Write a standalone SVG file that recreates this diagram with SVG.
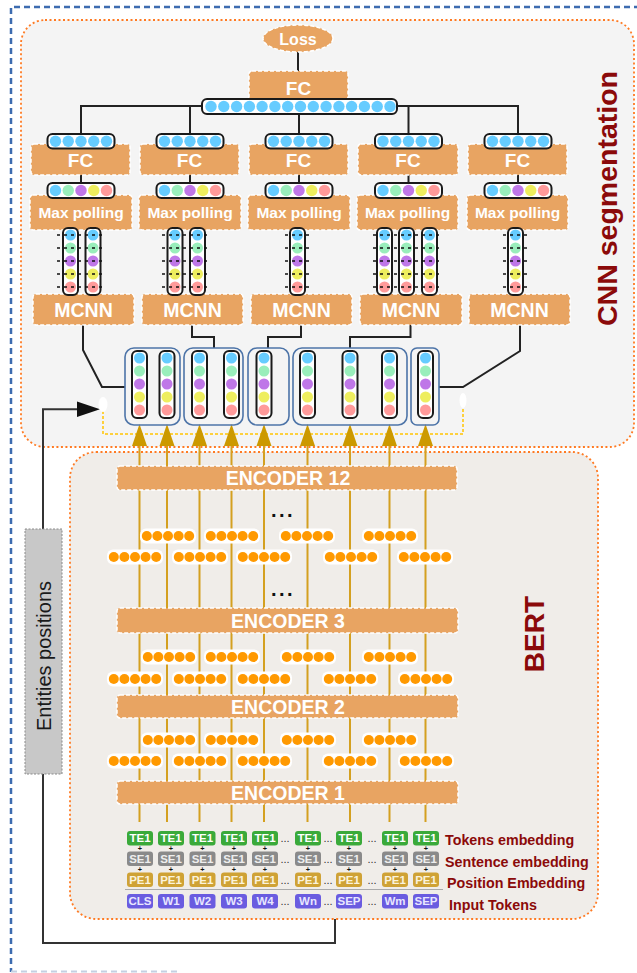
<svg xmlns="http://www.w3.org/2000/svg" width="637" height="973" viewBox="0 0 637 973">
<style>
.ob{fill:#e8a462;stroke:#fff;stroke-width:1.5;stroke-dasharray:4 2}
.wt{fill:#fff;font-family:"Liberation Sans",Arial,sans-serif;font-weight:bold;text-anchor:middle}
.bar{fill:#fff;stroke:#1a1a1a;stroke-width:2}
.cb{fill:#66ccff}.cg{fill:#99eebb}.cp{fill:#bf77e8}.cy{fill:#eeee5e}.cr{fill:#ff9a9a}.co{fill:#ff9900}
.blk{fill:none;stroke:#222;stroke-width:2}
.dsh{fill:none;stroke:#111;stroke-width:1.5;stroke-dasharray:3 4}
.grp{fill:none;stroke:#4d74a8;stroke-width:1.6}
.gold{fill:none;stroke:#d4a020;stroke-width:2}
.ah{fill:#cc9900}
.tb{font-family:"Liberation Sans",Arial,sans-serif;font-weight:bold;font-size:11.5px;fill:#fff;text-anchor:middle}
.te{fill:#3aaa3a}.se{fill:#8a8a8a}.pe{fill:#cfa235}.it{fill:#6a5ce0}
.lbl{font-family:"Liberation Sans",Arial,sans-serif;font-weight:bold;font-size:14.3px;fill:#8b0a0a}
.dots{font-family:"Liberation Sans",Arial,sans-serif;font-size:11px;fill:#333;text-anchor:middle}
.plus{font-family:"Liberation Sans",Arial,sans-serif;font-weight:bold;font-size:7.3px;fill:#111;text-anchor:middle}
</style>
<defs>
<g id="hb-blue">
<rect x="0" y="0" width="67" height="14.5" rx="5" class="bar"/>
<circle cx="8" cy="7.25" r="5.7" class="cb"/><circle cx="20.75" cy="7.25" r="5.7" class="cb"/><circle cx="33.5" cy="7.25" r="5.7" class="cb"/><circle cx="46.25" cy="7.25" r="5.7" class="cb"/><circle cx="59" cy="7.25" r="5.7" class="cb"/>
</g>
<g id="hb-col">
<rect x="0" y="0" width="67" height="15" rx="5" class="bar"/>
<circle cx="8" cy="7.5" r="5.7" class="cb"/><circle cx="20.75" cy="7.5" r="5.7" class="cg"/><circle cx="33.5" cy="7.5" r="5.7" class="cp"/><circle cx="46.25" cy="7.5" r="5.7" class="cy"/><circle cx="59" cy="7.5" r="5.7" class="cr"/>
</g>
<g id="vb">
<rect x="0" y="0" width="15" height="67" rx="5" class="bar"/>
<circle cx="7.5" cy="7" r="5.5" class="cb"/><circle cx="7.5" cy="20" r="5.5" class="cg"/><circle cx="7.5" cy="33" r="5.5" class="cp"/><circle cx="7.5" cy="46" r="5.5" class="cy"/><circle cx="7.5" cy="59" r="5.5" class="cr"/>
</g>
<g id="pill">
<rect x="0" y="0" width="56" height="15" rx="6" fill="#fff"/>
<circle cx="6.8" cy="7.5" r="5" class="co"/><circle cx="17.4" cy="7.5" r="5" class="co"/><circle cx="28" cy="7.5" r="5" class="co"/><circle cx="38.6" cy="7.5" r="5" class="co"/><circle cx="49.2" cy="7.5" r="5" class="co"/>
</g>
</defs>

<!-- frames -->
<path d="M640 7 H11 V972" fill="none" stroke="#3d6cb0" stroke-width="2.5" stroke-dasharray="6 4"/>
<path d="M11 971.5 H180" fill="none" stroke="#c4d0e2" stroke-width="2" stroke-dasharray="6 4"/>
<rect id="cnn-frame" x="21" y="20" width="613" height="427" rx="24" fill="#f4f4f4" stroke="#ff7a22" stroke-width="1.8" stroke-dasharray="2 2.5"/>
<rect id="bert-frame" x="70" y="452" width="528" height="467" rx="26" fill="#f0ede9" stroke="#ff7a22" stroke-width="1.8" stroke-dasharray="2 2.5"/>
<text x="617" y="198.5" transform="rotate(-90 617 198.5)" font-family="Liberation Sans,Arial,sans-serif" font-weight="bold" font-size="28.5" fill="#8b0a0a" text-anchor="middle">CNN segmentation</text>
<text x="544" y="634" transform="rotate(-90 544 634)" font-family="Liberation Sans,Arial,sans-serif" font-weight="bold" font-size="28" fill="#8b0a0a" text-anchor="middle">BERT</text>

<!-- connectors -->
<g id="connectors">
<path class="blk" d="M298 52 V71"/>
<path class="blk" d="M81 134 V106 H518 V134 M190 106 V134 M299 106 V134 M408.5 106 V134"/>
<path class="blk" d="M81 175 V183 M190 175 V183 M299 175 V183 M408.5 175 V183 M518 175 V183"/>
<path class="blk" d="M83 325 V350 L102 387 H125"/>
<path class="blk" d="M192 325 V337 H214 V348"/>
<path class="blk" d="M301 325 V337 H268 V348"/>
<path class="blk" d="M410.5 325 V337 H350 V348"/>
<path class="blk" d="M520 325 V351 L463 387 H439"/>
<path d="M103 411 V434 H463 V408" fill="none" stroke="#ffc400" stroke-width="1.5" stroke-dasharray="3 2"/>
<path d="M79 409.3 H43 V529 M43 774 V943 H335 V919" fill="none" stroke="#333" stroke-width="2"/>
<polygon points="77,401.5 100,409.3 77,417" fill="#111"/>
<path class="gold" d="M139.5 446 V822 M167 446 V822 M199.5 446 V822 M231.5 446 V822 M264 446 V822 M307.5 446 V822 M350 446 V822 M389.5 446 V822 M425.5 446 V822"/>
<g class="ah">
<polygon points="139.5,424 132,446 147,446"/><polygon points="167,424 159.5,446 174.5,446"/><polygon points="199.5,424 192,446 207,446"/><polygon points="231.5,424 224,446 239,446"/><polygon points="264,424 256.5,446 271.5,446"/><polygon points="307.5,424 300,446 315,446"/><polygon points="350,424 342.5,446 357.5,446"/><polygon points="389.5,424 382,446 397,446"/><polygon points="425.5,424 418,446 433,446"/>
</g>
</g>

<!-- CNN nodes -->
<g id="loss">
<ellipse cx="298" cy="38.5" rx="35" ry="13.5" class="ob"/>
<text x="298" y="44.5" class="wt" font-size="16">Loss</text>
</g>
<g id="fc-top">
<rect x="249" y="71" width="99" height="29" rx="3" class="ob"/>
<text x="298.5" y="94.5" class="wt" font-size="19">FC</text>
</g>
<g id="concat-vector">
<rect x="202" y="99" width="195" height="15" rx="5" class="bar"/>
<g class="cb">
<circle cx="211" cy="106.5" r="5.7"/><circle cx="223.8" cy="106.5" r="5.7"/><circle cx="236.6" cy="106.5" r="5.7"/><circle cx="249.4" cy="106.5" r="5.7"/><circle cx="262.1" cy="106.5" r="5.7"/><circle cx="274.9" cy="106.5" r="5.7"/><circle cx="287.7" cy="106.5" r="5.7"/><circle cx="300.5" cy="106.5" r="5.7"/><circle cx="313.3" cy="106.5" r="5.7"/><circle cx="326.1" cy="106.5" r="5.7"/><circle cx="338.9" cy="106.5" r="5.7"/><circle cx="351.6" cy="106.5" r="5.7"/><circle cx="364.4" cy="106.5" r="5.7"/><circle cx="377.2" cy="106.5" r="5.7"/><circle cx="390" cy="106.5" r="5.7"/>
</g>
</g>

<g id="branch-1">
<rect x="31" y="144" width="99" height="31" rx="3" class="ob"/>
<text x="80.5" y="167" class="wt" font-size="19">FC</text>
<use href="#hb-blue" x="47.5" y="134"/>
<rect x="30" y="195" width="102" height="35" rx="3" class="ob"/>
<text x="81" y="218" class="wt" font-size="15.5">Max polling</text>
<use href="#hb-col" x="47.5" y="183"/>
<rect x="33" y="294" width="101" height="31" rx="3" class="ob"/>
<text x="83.5" y="316.5" class="wt" font-size="19.5">MCNN</text>
<use href="#vb" x="63" y="228"/><use href="#vb" x="85.5" y="228"/>
<path class="dsh" d="M57 235 H104 M57 248 H104 M57 261 H104 M57 274 H104 M57 287 H104"/>
</g>
<g id="branch-2">
<rect x="140" y="144" width="99" height="31" rx="3" class="ob"/>
<text x="189.5" y="167" class="wt" font-size="19">FC</text>
<use href="#hb-blue" x="156.5" y="134"/>
<rect x="139" y="195" width="102" height="35" rx="3" class="ob"/>
<text x="190" y="218" class="wt" font-size="15.5">Max polling</text>
<use href="#hb-col" x="156.5" y="183"/>
<rect x="142" y="294" width="101" height="31" rx="3" class="ob"/>
<text x="192.5" y="316.5" class="wt" font-size="19.5">MCNN</text>
<use href="#vb" x="167.5" y="228"/><use href="#vb" x="190" y="228"/>
<path class="dsh" d="M162 235 H208 M162 248 H208 M162 261 H208 M162 274 H208 M162 287 H208"/>
</g>
<g id="branch-3">
<rect x="249" y="144" width="99" height="31" rx="3" class="ob"/>
<text x="298.5" y="167" class="wt" font-size="19">FC</text>
<use href="#hb-blue" x="265.5" y="134"/>
<rect x="248" y="195" width="102" height="35" rx="3" class="ob"/>
<text x="299" y="218" class="wt" font-size="15.5">Max polling</text>
<use href="#hb-col" x="265.5" y="183"/>
<rect x="251" y="294" width="101" height="31" rx="3" class="ob"/>
<text x="301.5" y="316.5" class="wt" font-size="19.5">MCNN</text>
<use href="#vb" x="290" y="228"/>
<path class="dsh" d="M285 235 H312 M285 248 H312 M285 261 H312 M285 274 H312 M285 287 H312"/>
</g>
<g id="branch-4">
<rect x="358" y="144" width="100" height="31" rx="3" class="ob"/>
<text x="408" y="167" class="wt" font-size="19">FC</text>
<use href="#hb-blue" x="375" y="134"/>
<rect x="357" y="195" width="101" height="35" rx="3" class="ob"/>
<text x="407.5" y="218" class="wt" font-size="15.5">Max polling</text>
<use href="#hb-col" x="375" y="183"/>
<rect x="360" y="294" width="102" height="31" rx="3" class="ob"/>
<text x="411" y="316.5" class="wt" font-size="19.5">MCNN</text>
<use href="#vb" x="377" y="228"/><use href="#vb" x="399" y="228"/><use href="#vb" x="422" y="228"/>
<path class="dsh" d="M373 235 H439 M373 248 H439 M373 261 H439 M373 274 H439 M373 287 H439"/>
</g>
<g id="branch-5">
<rect x="468" y="144" width="99" height="31" rx="3" class="ob"/>
<text x="517.5" y="167" class="wt" font-size="19">FC</text>
<use href="#hb-blue" x="484.5" y="134"/>
<rect x="467" y="195" width="101" height="35" rx="3" class="ob"/>
<text x="517.5" y="218" class="wt" font-size="15.5">Max polling</text>
<use href="#hb-col" x="484.5" y="183"/>
<rect x="469" y="294" width="101" height="31" rx="3" class="ob"/>
<text x="519.5" y="316.5" class="wt" font-size="19.5">MCNN</text>
<use href="#vb" x="508" y="228"/>
<path class="dsh" d="M503 235 H531 M503 248 H531 M503 261 H531 M503 274 H531 M503 287 H531"/>
</g>

<!-- entity groups -->
<g id="entity-groups">
<rect x="125" y="348" width="55" height="77" rx="9" class="grp"/>
<rect x="184" y="348" width="59" height="77" rx="9" class="grp"/>
<rect x="248" y="348" width="41" height="77" rx="9" class="grp"/>
<rect x="293" y="348" width="114" height="77" rx="9" class="grp"/>
<rect x="411" y="348" width="28" height="77" rx="6" class="grp"/>
<use href="#vb" x="132" y="351"/><use href="#vb" x="159.5" y="351"/><use href="#vb" x="192" y="351"/><use href="#vb" x="224" y="351"/><use href="#vb" x="256.5" y="351"/><use href="#vb" x="300" y="351"/><use href="#vb" x="342.5" y="351"/><use href="#vb" x="382" y="351"/><use href="#vb" x="418" y="351"/>
<ellipse cx="103" cy="404.5" rx="4.5" ry="7.5" fill="#fff"/>
<ellipse cx="463" cy="400.5" rx="3.5" ry="7.5" fill="#fff"/>
</g>

<g id="entities-positions">
<rect x="25" y="529" width="37" height="245" fill="#c8c8c8" stroke="#8a8a8a" stroke-width="1" stroke-dasharray="2 1.5"/>
<text x="51" y="656" transform="rotate(-90 51 656)" font-family="Liberation Sans,Arial,sans-serif" font-size="20" fill="#1a1a1a" text-anchor="middle">Entities positions</text>
</g>

<!-- BERT -->
<g id="hidden-states">
<use href="#pill" x="140" y="528.5"/><use href="#pill" x="204" y="528.5"/><use href="#pill" x="279" y="528.5"/><use href="#pill" x="362" y="528.5"/>
<use href="#pill" x="107" y="549.5"/><use href="#pill" x="172" y="549.5"/><use href="#pill" x="236" y="549.5"/><use href="#pill" x="323" y="549.5"/><use href="#pill" x="397" y="549.5"/>
<use href="#pill" x="141" y="649.5"/><use href="#pill" x="204" y="649.5"/><use href="#pill" x="280" y="649.5"/><use href="#pill" x="362" y="649.5"/>
<use href="#pill" x="107" y="671.5"/><use href="#pill" x="172" y="671.5"/><use href="#pill" x="236" y="671.5"/><use href="#pill" x="322" y="671.5"/><use href="#pill" x="398" y="671.5"/>
<use href="#pill" x="141" y="732.5"/><use href="#pill" x="204" y="732.5"/><use href="#pill" x="280" y="732.5"/><use href="#pill" x="362" y="732.5"/>
<use href="#pill" x="107" y="753.5"/><use href="#pill" x="172" y="753.5"/><use href="#pill" x="236" y="753.5"/><use href="#pill" x="322" y="753.5"/><use href="#pill" x="398" y="753.5"/>
<text x="283" y="517" font-family="Liberation Sans,Arial,sans-serif" font-weight="bold" font-size="20" letter-spacing="2.5" fill="#111" text-anchor="middle">...</text>
<text x="283" y="596" font-family="Liberation Sans,Arial,sans-serif" font-weight="bold" font-size="20" letter-spacing="2.5" fill="#111" text-anchor="middle">...</text>
</g>
<g id="encoder-12">
<rect x="117" y="466" width="340" height="24" rx="3" class="ob"/>
<text x="288" y="485" class="wt" font-size="19.5">ENCODER 12</text>
</g>
<g id="encoder-3">
<rect x="117" y="608" width="341" height="25" rx="3" class="ob"/>
<text x="288" y="628" class="wt" font-size="19.5">ENCODER 3</text>
</g>
<g id="encoder-2">
<rect x="117" y="695" width="341" height="23" rx="3" class="ob"/>
<text x="288" y="713.5" class="wt" font-size="19.5">ENCODER 2</text>
</g>
<g id="encoder-1">
<rect x="117" y="781" width="341" height="23" rx="3" class="ob"/>
<text x="288" y="799.5" class="wt" font-size="19.5">ENCODER 1</text>
</g>

<g id="token-embeddings">
<g class="te">
<rect x="127" y="831" width="26" height="14.5" rx="3"/><rect x="158" y="831" width="26" height="14.5" rx="3"/><rect x="189.5" y="831" width="26" height="14.5" rx="3"/><rect x="221" y="831" width="26" height="14.5" rx="3"/><rect x="252" y="831" width="26" height="14.5" rx="3"/><rect x="295" y="831" width="26" height="14.5" rx="3"/><rect x="336" y="831" width="26" height="14.5" rx="3"/><rect x="382" y="831" width="26" height="14.5" rx="3"/><rect x="413" y="831" width="26" height="14.5" rx="3"/>
</g>
<g class="tb">
<text x="140" y="842.2">TE1</text><text x="171" y="842.2">TE1</text><text x="202.5" y="842.2">TE1</text><text x="234" y="842.2">TE1</text><text x="265" y="842.2">TE1</text><text x="308" y="842.2">TE1</text><text x="349" y="842.2">TE1</text><text x="395" y="842.2">TE1</text><text x="426" y="842.2">TE1</text>
</g>
</g>
<g id="sentence-embeddings">
<g class="se">
<rect x="127" y="851.5" width="26" height="14.5" rx="3"/><rect x="158" y="851.5" width="26" height="14.5" rx="3"/><rect x="189.5" y="851.5" width="26" height="14.5" rx="3"/><rect x="221" y="851.5" width="26" height="14.5" rx="3"/><rect x="252" y="851.5" width="26" height="14.5" rx="3"/><rect x="295" y="851.5" width="26" height="14.5" rx="3"/><rect x="336" y="851.5" width="26" height="14.5" rx="3"/><rect x="382" y="851.5" width="26" height="14.5" rx="3"/><rect x="413" y="851.5" width="26" height="14.5" rx="3"/>
</g>
<g class="tb" style="fill:#eee">
<text x="140" y="862.8">SE1</text><text x="171" y="862.8">SE1</text><text x="202.5" y="862.8">SE1</text><text x="234" y="862.8">SE1</text><text x="265" y="862.8">SE1</text><text x="308" y="862.8">SE1</text><text x="349" y="862.8">SE1</text><text x="395" y="862.8">SE1</text><text x="426" y="862.8">SE1</text>
</g>
</g>
<g id="position-embeddings">
<g class="pe">
<rect x="127" y="872.5" width="26" height="14.5" rx="3"/><rect x="158" y="872.5" width="26" height="14.5" rx="3"/><rect x="189.5" y="872.5" width="26" height="14.5" rx="3"/><rect x="221" y="872.5" width="26" height="14.5" rx="3"/><rect x="252" y="872.5" width="26" height="14.5" rx="3"/><rect x="295" y="872.5" width="26" height="14.5" rx="3"/><rect x="336" y="872.5" width="26" height="14.5" rx="3"/><rect x="382" y="872.5" width="26" height="14.5" rx="3"/><rect x="413" y="872.5" width="26" height="14.5" rx="3"/>
</g>
<g class="tb" style="fill:#fbf3dc">
<text x="140" y="883.8">PE1</text><text x="171" y="883.8">PE1</text><text x="202.5" y="883.8">PE1</text><text x="234" y="883.8">PE1</text><text x="265" y="883.8">PE1</text><text x="308" y="883.8">PE1</text><text x="349" y="883.8">PE1</text><text x="395" y="883.8">PE1</text><text x="426" y="883.8">PE1</text>
</g>
</g>
<path d="M125 889.5 H443" stroke="#aaa" stroke-width="1"/>
<g id="input-tokens">
<g class="it">
<rect x="127" y="894" width="26" height="14.5" rx="3"/><rect x="158" y="894" width="26" height="14.5" rx="3"/><rect x="189.5" y="894" width="26" height="14.5" rx="3"/><rect x="221" y="894" width="26" height="14.5" rx="3"/><rect x="252" y="894" width="26" height="14.5" rx="3"/><rect x="295" y="894" width="26" height="14.5" rx="3"/><rect x="336" y="894" width="26" height="14.5" rx="3"/><rect x="382" y="894" width="26" height="14.5" rx="3"/><rect x="413" y="894" width="26" height="14.5" rx="3"/>
</g>
<g class="tb" style="fill:#e8e6ff">
<text x="140" y="905.3">CLS</text><text x="171" y="905.3">W1</text><text x="202.5" y="905.3">W2</text><text x="234" y="905.3">W3</text><text x="265" y="905.3">W4</text><text x="308" y="905.3">Wn</text><text x="349" y="905.3">SEP</text><text x="395" y="905.3">Wm</text><text x="426" y="905.3">SEP</text>
</g>
</g>
<g class="plus">
<text x="140" y="851.3">+</text><text x="171" y="851.3">+</text><text x="202.5" y="851.3">+</text><text x="234" y="851.3">+</text><text x="265" y="851.3">+</text><text x="308" y="851.3">+</text><text x="349" y="851.3">+</text><text x="395" y="851.3">+</text><text x="426" y="851.3">+</text>
<text x="140" y="872.2">+</text><text x="171" y="872.2">+</text><text x="202.5" y="872.2">+</text><text x="234" y="872.2">+</text><text x="265" y="872.2">+</text><text x="308" y="872.2">+</text><text x="349" y="872.2">+</text><text x="395" y="872.2">+</text><text x="426" y="872.2">+</text>
</g>
<g class="dots">
<text x="285" y="842">...</text><text x="328" y="842">...</text><text x="372" y="842">...</text>
<text x="285" y="862.5">...</text><text x="328" y="862.5">...</text><text x="372" y="862.5">...</text>
<text x="285" y="883.5">...</text><text x="328" y="883.5">...</text><text x="372" y="883.5">...</text>
<text x="285" y="905">...</text><text x="328" y="905">...</text><text x="372" y="905">...</text>
</g>
<g id="embedding-labels">
<text x="445" y="845" class="lbl">Tokens embedding</text>
<text x="445" y="867" class="lbl">Sentence embedding</text>
<text x="447" y="888" class="lbl">Position Embedding</text>
<text x="449" y="910" class="lbl">Input Tokens</text>
</g>
</svg>
